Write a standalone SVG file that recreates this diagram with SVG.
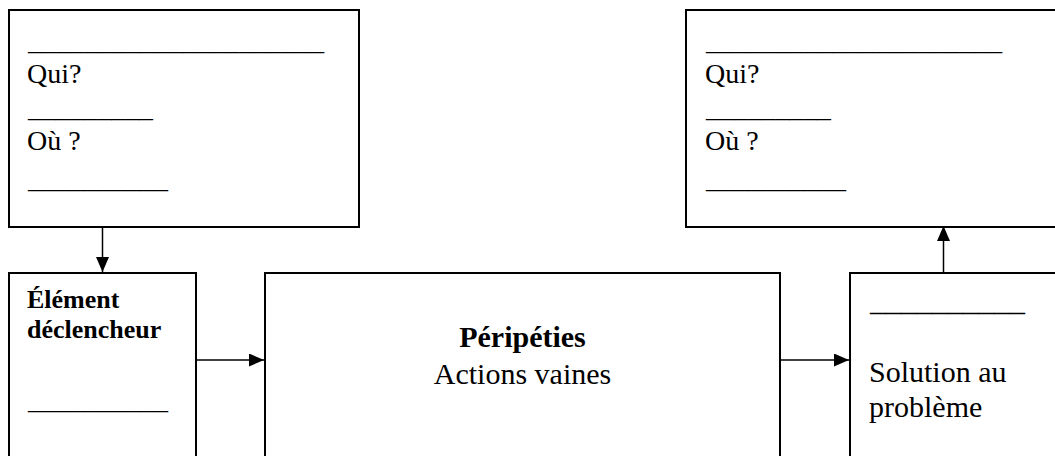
<svg xmlns="http://www.w3.org/2000/svg" width="1055" height="456" viewBox="0 0 1055 456">
<style>
.box{fill:#fff;stroke:#000;stroke-width:2}
.t{font-family:"Liberation Serif","Times New Roman",serif;fill:#000}
.r28{font-size:28px}
.r30{font-size:30px}
.b26{font-size:26px;font-weight:bold}
.b30{font-size:30px;font-weight:bold}
.conn{stroke:#000;stroke-width:1.5;fill:none}
</style>
<defs>
<marker id="ah" viewBox="0 0 15 13" refX="15" refY="6.5" markerWidth="15" markerHeight="13" markerUnits="userSpaceOnUse" orient="auto">
<path d="M0,0 L15,6.5 L0,13 Z" fill="#000"/>
</marker>
</defs>
<rect width="1055" height="456" fill="#fff"/>
<g id="node-top-left">
<rect class="box" x="9" y="10" width="350" height="217"/>
<text class="t r28" x="28" y="50" textLength="296" lengthAdjust="spacingAndGlyphs">_____________________</text>
<text class="t r28" x="27" y="83">Qui?</text>
<text class="t r28" x="28" y="117" textLength="125" lengthAdjust="spacingAndGlyphs">_________</text>
<text class="t r28" x="27" y="150">Où ?</text>
<text class="t r28" x="28" y="188" textLength="140" lengthAdjust="spacingAndGlyphs">__________</text>
</g>
<g id="node-top-right">
<rect class="box" x="686" y="10" width="420" height="217"/>
<text class="t r28" x="706" y="50" textLength="296" lengthAdjust="spacingAndGlyphs">_____________________</text>
<text class="t r28" x="705" y="83">Qui?</text>
<text class="t r28" x="706" y="117" textLength="125" lengthAdjust="spacingAndGlyphs">_________</text>
<text class="t r28" x="705" y="150">Où ?</text>
<text class="t r28" x="706" y="188" textLength="140" lengthAdjust="spacingAndGlyphs">__________</text>
</g>
<g id="node-element-declencheur">
<rect class="box" x="9" y="273" width="187" height="220"/>
<text class="t b26" x="27" y="308">Élément</text>
<text class="t b26" x="27" y="338">déclencheur</text>
<text class="t r28" x="28" y="409" textLength="140" lengthAdjust="spacingAndGlyphs">__________</text>
</g>
<g id="node-peripeties">
<rect class="box" x="265" y="273" width="515" height="220"/>
<text class="t b30" x="522.5" y="347" text-anchor="middle">Péripéties</text>
<text class="t r30" x="522.5" y="384" text-anchor="middle">Actions vaines</text>
</g>
<g id="node-solution">
<rect class="box" x="850" y="273" width="260" height="220"/>
<text class="t r30" x="870" y="311" textLength="155" lengthAdjust="spacingAndGlyphs">__________</text>
<text class="t r30" x="869" y="382">Solution au</text>
<text class="t r30" x="869" y="417">problème</text>
</g>
<g id="connectors">
<line class="conn" x1="102.5" y1="227" x2="102.5" y2="272" marker-end="url(#ah)"/>
<line class="conn" x1="196" y1="360" x2="264" y2="360" marker-end="url(#ah)"/>
<line class="conn" x1="780" y1="360" x2="849" y2="360" marker-end="url(#ah)"/>
<line class="conn" x1="943.5" y1="272" x2="943.5" y2="226" marker-end="url(#ah)"/>
</g>
</svg>
